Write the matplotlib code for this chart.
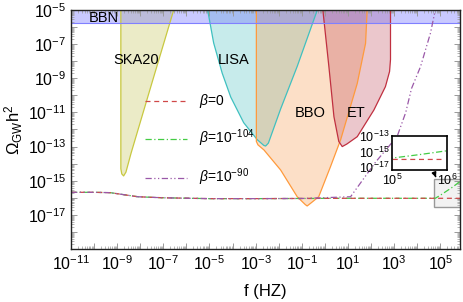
import numpy as np
import matplotlib.pyplot as plt
from matplotlib.ticker import FixedLocator, FixedFormatter, LogLocator, NullFormatter
from matplotlib.patches import Rectangle

plt.rcParams['font.family'] = ['Liberation Sans', 'DejaVu Sans']
plt.rcParams['mathtext.fontset'] = 'custom'
plt.rcParams['mathtext.rm'] = 'Liberation Sans'
plt.rcParams['mathtext.it'] = 'Liberation Sans:italic'

# sensitivity curves (log10 f, log10 Omega h^2)
ska_logf = [-8.84, -8.84, -8.80, -8.72, -8.62, -8.40, -7.50, -6.55]
ska_logo = [-5.0, -14.3, -14.6, -14.72, -14.5, -13.4, -9.3, -5.0]

lisa_logf = [-5.08, -4.82, -4.45, -4.08, -3.52, -2.93, -2.65, -2.57, -2.45, -1.92, -1.20, -0.33]
lisa_logo = [-5.0, -6.93, -8.7, -10.1, -11.6, -12.6, -12.93, -12.97, -12.8, -10.8, -8.3, -5.0]

bbo_logf = [-2.97, -2.97, -2.90, -2.64, -1.92, -1.20, -0.85, -0.77, -0.60, -0.27, 0.24, 0.68, 1.40, 1.76, 1.83]
bbo_logo = [-5.0, -12.7, -12.9, -13.2, -14.37, -15.94, -16.4, -16.48, -16.3, -15.94, -14.18, -12.6, -9.3, -6.95, -5.0]

et_logf = [-0.09, 0.17, 0.39, 0.60, 0.75, 0.95, 1.40, 2.12, 2.62, 2.80, 2.84, 2.84]
et_logo = [-5.0, -8.3, -11.25, -12.7, -13.0, -12.85, -12.42, -10.86, -9.49, -8.6, -7.9, -5.0]

bbn_top = -5.0
bbn_bottom = -5.75

# spectra for the three beta values
b0_logf = [-11, -10, -9.3, -8.8, -8.1, -7, -5, -3, -1, 1, 3, 5, 5.9]
b0_logo = [-15.68, -15.68, -15.70, -15.80, -15.94, -16.0, -16.05, -16.05, -16.04, -16.03, -16.03, -16.03, -16.03]

b104_logf = [-11, -10, -9.3, -8.8, -8.1, -7, -5, -3, -1, 1, 3, 4.78, 5.0, 5.5, 6.0]
b104_logo = [-15.68, -15.68, -15.70, -15.80, -15.94, -16.0, -16.05, -16.05, -16.04, -16.03, -16.03, -16.03, -15.85, -15.4, -14.9]

b90_logf = [-11, -10, -9.3, -8.8, -8.1, -7, -5, -3, -1, 1.11, 2.2, 3.13, 3.5, 3.75, 4.14, 4.57, 4.78, 4.9]
b90_logo = [-15.68, -15.68, -15.70, -15.80, -15.94, -16.0, -16.05, -16.05, -16.04, -15.94, -13.9, -12.4, -11.0, -9.6, -8.32, -6.36, -5.0, -4.3]

labels = [r'$\beta$=0', r'$\beta$=10$^{-104}$', r'$\beta$=10$^{-90}$']

x_exps = list(range(-11, 6))
y_exps = list(range(-19, -4))
x_labeled = [-11, -9, -7, -5, -3, -1, 1, 3, 5]
y_labeled = [-17, -15, -13, -11, -9, -7, -5]

# detector names and where they sit (log10 f, log10 Omega)
names = ['BBN', 'SKA20', 'LISA', 'BBO', 'ET']
name_logf = [-9.57, -8.19, -3.97, -0.64, 1.37]
name_logo = [-5.45, -7.93, -7.93, -11.03, -11.03]


def p(a):
    return 10.0 ** np.array(a)


def lab(e, keep):
    return r'10$^{%d}$' % e if e in keep else ''


fig = plt.figure(figsize=(4.63, 3.02), dpi=100)
ax = fig.add_axes([0.1533, 0.1755, 0.8402, 0.7914])
ax.set_xscale('log')
ax.set_yscale('log')
ax.set_xlim(1e-11, 10 ** 5.85)
ax.set_ylim(1e-19, 1e-5)

for lf, lo, c, e in [(ska_logf, ska_logo, '#c0c048', '#c8c840'),
                     (lisa_logf, lisa_logo, '#48c0c0', '#40c0c0'),
                     (bbo_logf, bbo_logo, '#f89848', '#ff9a3c'),
                     (et_logf, et_logo, '#c04858', '#c03040')]:
    ax.fill(p(lf), p(lo), facecolor=c, alpha=0.3, edgecolor='none')
    ax.plot(p(lf), p(lo), color=e, lw=0.9)

ax.axhspan(10 ** bbn_bottom, 10 ** bbn_top, color='#6666ff', alpha=0.35, lw=0)
ax.axhline(10 ** bbn_bottom, color='#8080ff', lw=0.8)

for n, lf, lo in zip(names, name_logf, name_logo):
    ax.text(10 ** lf, 10 ** lo, n, fontsize=10.5, va='center', ha='center')

l104, = ax.plot(p(b104_logf), p(b104_logo), color='#44cc44', lw=0.9, ls=(0, (5, 2, 1, 2)))
l0, = ax.plot(p(b0_logf), p(b0_logo), color='#d04848', lw=0.9, ls=(0, (4, 3)))
l90, = ax.plot(p(b90_logf), p(b90_logo), color='#9a58a8', lw=0.9, ls=(0, (5, 2, 1, 2, 1, 2)))

ax.legend([l0, l104, l90], labels, loc='upper left', bbox_to_anchor=(0.19, 0.655),
          frameon=False, fontsize=10, handlelength=3.0, handletextpad=0.9,
          labelspacing=1.25, borderpad=0, borderaxespad=0)

# zoom rectangle
ax.add_patch(Rectangle((10 ** 4.71, 10 ** -16.52), 10 ** 6.2 - 10 ** 4.71,
                       10 ** -14.92 - 10 ** -16.52, facecolor='#f2f2f2',
                       edgecolor='#999999', lw=1.0, zorder=1))

ax.xaxis.set_major_locator(FixedLocator([10.0 ** k for k in x_exps]))
ax.yaxis.set_major_locator(FixedLocator([10.0 ** k for k in y_exps]))
ax.xaxis.set_major_formatter(FixedFormatter([lab(k, x_labeled) for k in x_exps]))
ax.yaxis.set_major_formatter(FixedFormatter([lab(k, y_labeled) for k in y_exps]))
ax.xaxis.set_minor_locator(LogLocator(base=10, subs=np.arange(2, 10), numticks=40))
ax.yaxis.set_minor_locator(LogLocator(base=10, subs=np.arange(2, 10), numticks=40))
ax.xaxis.set_minor_formatter(NullFormatter())
ax.yaxis.set_minor_formatter(NullFormatter())
ax.tick_params(which='both', direction='in', top=True, right=True, colors='#999999',
               labelcolor='black', labelsize=11.5)
ax.tick_params(which='major', length=4, width=0.7)
ax.tick_params(which='minor', length=2, width=0.5)
for s in ax.spines.values():
    s.set_color('#222222')
    s.set_linewidth(1.0)

ax.set_xlabel('f (HZ)', fontsize=12, labelpad=8)
ax.set_ylabel(r'$\Omega_{\mathrm{GW}}$h$^2$', fontsize=12, labelpad=2)

# inset
axi = fig.add_axes([0.8473, 0.437, 0.1188, 0.1126])
axi.set_xscale('log')
axi.set_yscale('log')
axi.set_xlim(1e5, 1e6)
axi.set_ylim(10 ** -17.4, 1e-13)
axi.plot(p(b104_logf), p(b104_logo), color='#44cc44', lw=0.9, ls=(0, (5, 2, 1, 2)))
axi.plot(p(b0_logf), p(b0_logo), color='#d04848', lw=0.9, ls=(0, (4, 3)))
axi.set_xticks([1e5, 1e6])
axi.set_xticklabels([r'10$^{5}$', r'10$^{6}$'])
axi.set_yticks([1e-13, 1e-15, 1e-17])
axi.set_yticklabels([r'10$^{-13}$', r'10$^{-15}$', r'10$^{-17}$'])
axi.minorticks_off()
axi.tick_params(length=0, labelsize=9, pad=2)
for s in axi.spines.values():
    s.set_color('black')
    s.set_linewidth(1.2)

ax.annotate('', xy=(10 ** 4.85, 10 ** -14.95), xytext=(10 ** 4.75, 10 ** -14.6),
            arrowprops=dict(arrowstyle='-|>', color='black', lw=1.2, mutation_scale=6))

fig.savefig('out.png', dpi=100)
